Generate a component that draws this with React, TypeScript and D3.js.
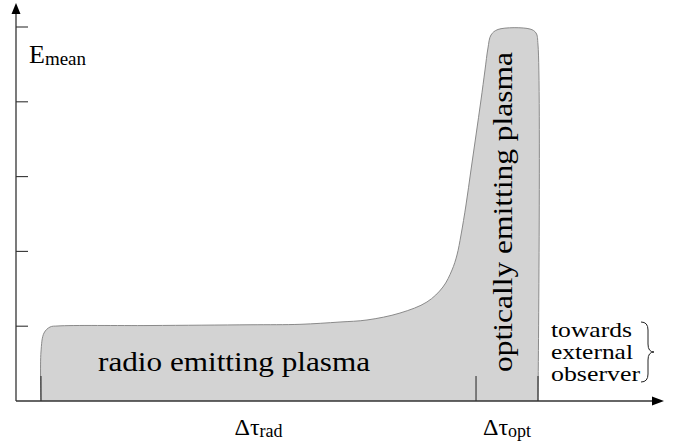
import React from "react";
import * as d3 from "d3";

// Outline of the plasma region: tau (arbitrary units) vs mean energy
const outlineTau = [3.86, 3.86, 4.33, 5.26, 6.49, 20.71, 36.17, 43.89, 50.08, 54.25, 59.35, 63.52, 65.99, 67.39, 68.16, 68.78, 69.55, 70.32, 71.10, 71.87, 72.49, 72.95, 73.42, 74.5, 79.44, 80.37, 80.68, 80.68];
const outlineE = [0, 0.655, 0.909, 0.989, 1.003, 1.009, 1.019, 1.025, 1.056, 1.083, 1.176, 1.324, 1.524, 1.751, 1.952, 2.219, 2.62, 3.088, 3.556, 4.024, 4.425, 4.719, 4.893, 4.967, 4.973, 4.92, 4.759, 0];

const yTicks = [1, 2, 3, 4, 5];
const markerTau = [3.86, 71.1, 80.68];
const markerHeight = 0.334;
const observerLines = ["towards", "external", "observer"];
const observerWidths = [81, 82, 89];

const W = 679;
const H = 448;
const SERIF = "Liberation Serif";

export default function App() {
  const x = d3.scaleLinear().domain([0, 100]).range([16, 663]);
  const y = d3.scaleLinear().domain([0, 5]).range([401, 27]);
  const pts: [number, number][] = outlineTau.map((t, i) => [t, outlineE[i]]);
  const line = d3
    .line<[number, number]>()
    .x((d) => x(d[0]))
    .y((d) => y(d[1]))
    .curve(d3.curveCatmullRom.alpha(0.5));
  const pathD = line(pts) || "";
  const x0 = x(0);
  const y0 = y(0);
  const radMid = (x(markerTau[0]) + x(markerTau[1])) / 2;
  const optMid = (x(markerTau[1]) + x(markerTau[2])) / 2;

  return (
    <svg width={W} height={H} style={{ position: "absolute", left: 0, top: 0, background: "#fff" }}>
      <style>{`text, tspan { font-family: "Liberation Serif", "Times New Roman", serif; }`}</style>
      <path d={pathD} fill="#d3d3d3" stroke="none" />
      <path d={pathD} fill="none" stroke="#8a8a8a" strokeWidth={1} />
      {markerTau.map((t, i) => (
        <line key={i} x1={x(t)} x2={x(t)} y1={y(0)} y2={y(markerHeight)} stroke="#222" strokeWidth={1} />
      ))}
      {/* axes */}
      <line x1={x0} x2={x0} y1={y0} y2={12} stroke="#333" strokeWidth={1.3} />
      <path d={`M${x0 - 4.5},${14} L${x0},${3} L${x0 + 4.5},${14} Z`} fill="#000" />
      <line x1={x0} x2={654} y1={y0} y2={y0} stroke="#333" strokeWidth={1.3} />
      <path d={`M${652},${y0 - 4.5} L${664},${y0} L${652},${y0 + 4.5} Z`} fill="#000" />
      {yTicks.map((v) => (
        <line key={v} x1={x0} x2={x0 + 12} y1={y(v)} y2={y(v)} stroke="#333" strokeWidth={1.1} />
      ))}
      {/* y label */}
      <text x={29} y={63} fontSize={26} fontFamily={SERIF}>
        E<tspan fontSize={19} dy={2}>mean</tspan>
      </text>
      {/* region labels */}
      <text x={98} y={371} fontSize={27} fontFamily={SERIF} textLength={272} lengthAdjust="spacingAndGlyphs">
        radio emitting plasma
      </text>
      <text
        transform={`translate(512,372) rotate(-90)`}
        x={0}
        y={0}
        fontSize={28}
        fontFamily={SERIF}
        textLength={320}
        lengthAdjust="spacingAndGlyphs"
      >
        optically emitting plasma
      </text>
      {/* x labels */}
      <text x={radMid} y={435} fontSize={24} textAnchor="middle" fontFamily={SERIF}>
        Δτ<tspan fontSize={18} dy={2}>rad</tspan>
      </text>
      <text x={optMid} y={435} fontSize={24} textAnchor="middle" fontFamily={SERIF}>
        Δτ<tspan fontSize={18} dy={2}>opt</tspan>
      </text>
      {/* observer note */}
      {observerLines.map((s, i) => (
        <text
          key={s}
          x={551}
          y={337 + i * 22}
          fontSize={21}
          fontFamily={SERIF}
          textLength={observerWidths[i]}
          lengthAdjust="spacingAndGlyphs"
        >
          {s}
        </text>
      ))}
      <path
        d="M641,322 Q648,322 648,330 L648,344 Q648,352 654,352 Q648,352 648,360 L648,374 Q648,382 641,382"
        fill="none"
        stroke="#222"
        strokeWidth={1}
      />
    </svg>
  );
}
